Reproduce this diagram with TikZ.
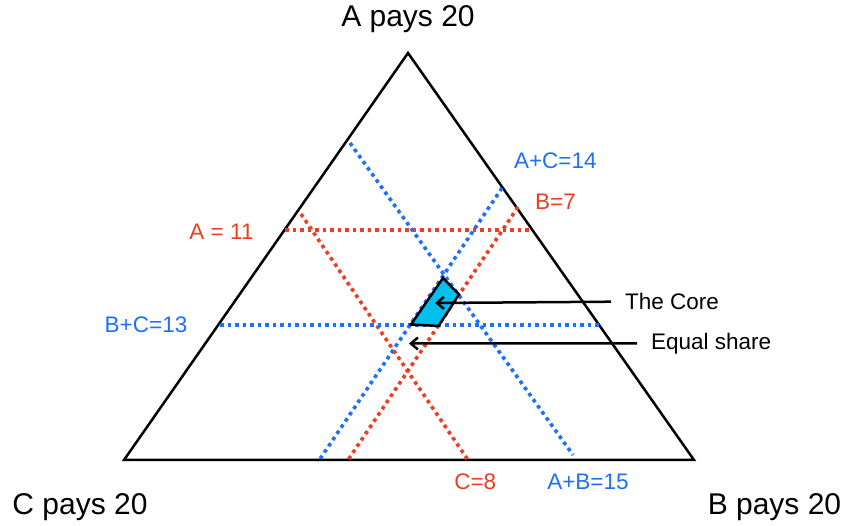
\documentclass[tikz,border=0pt]{standalone}
\usepackage{fontspec}
\setmainfont{Liberation Sans}
\usepackage{xcolor}
\usepackage{tikz}
\usetikzlibrary{arrows.meta,positioning,calc}

\definecolor{payred}{RGB}{236,62,32}
\definecolor{payblue}{RGB}{28,112,250}
\definecolor{corecyan}{RGB}{0,192,240}

\tikzset{
  redcut/.style={payred,line width=3.6pt,dash pattern=on 3.6pt off 3.9pt},
  bluecut/.style={payblue,line width=3.6pt,dash pattern=on 3.6pt off 3.9pt},
  corner/.style={font=\fontsize{30}{36}\selectfont,anchor=base,inner sep=0pt},
  redlbl/.style={payred,font=\fontsize{22.5}{27}\selectfont,anchor=base,inner sep=0pt},
  bluelbl/.style={payblue,font=\fontsize{22.5}{27}\selectfont,anchor=base,inner sep=0pt},
  note/.style={font=\fontsize{22.5}{27}\selectfont,anchor=base west,inner xsep=14pt,inner ysep=0pt}
}

\begin{document}
\begin{tikzpicture}[x=1pt,y=-1pt,>={Straight Barb[length=7pt,width=12pt]}]
  \useasboundingbox (0,0) rectangle (847,526);

  % simplex of payments
  \coordinate (topA) at (408,53);
  \coordinate (botC) at (124,460);
  \coordinate (botB) at (694,460);
  \draw[line width=2.5pt,line join=miter] (topA) -- (botB) -- (botC) -- cycle;

  % red limits
  \draw[redcut] (285,230) -- (531,230);
  \draw[redcut] (301,214) -- (468,460);
  \draw[redcut] (518,207) -- (348,460);

  % blue limits
  \draw[bluecut] (220,325) -- (600,325);
  \draw[bluecut] (350,143) -- (573,455);
  \draw[bluecut] (502,188) -- (318,462);

  % the core
  \filldraw[fill=corecyan,draw=black,line width=2.5pt,line join=miter]
    (443,278) -- (459,294.5) -- (438.5,326) -- (411,324.5) -- cycle;

  % corner labels
  \node[corner] (lblA) at (408,26.7) {A pays 20};
  \node[corner] (lblC) at (80,515) {C pays 20};
  \node[corner] (lblB) at (774.5,515) {B pays 20};

  % limit labels
  \node[redlbl] (a11) at (221.5,239.3) {A = 11};
  \node[redlbl] (b7) at (555.5,209.3) {B=7};
  \node[redlbl] (c8) at (475.3,489.3) {C=8};
  \node[bluelbl] (bc13) at (146,332.7) {B+C=13};
  \node[bluelbl] (ac14) at (555.3,168.3) {A+C=14};
  \node[bluelbl] (ab15) at (588,489.3) {A+B=15};

  % pointers
  \node[note] (core) at (611,309.3) {The Core};
  \node[note] (equal) at (637,349.3) {Equal share};
  \coordinate (coretip) at (435,303);
  \coordinate (equaltip) at (409,343.5);
  \draw[->,line width=2.5pt] (core) -- (coretip);
  \draw[->,line width=2.5pt] (equal) -- (equaltip);
\end{tikzpicture}
\end{document}
